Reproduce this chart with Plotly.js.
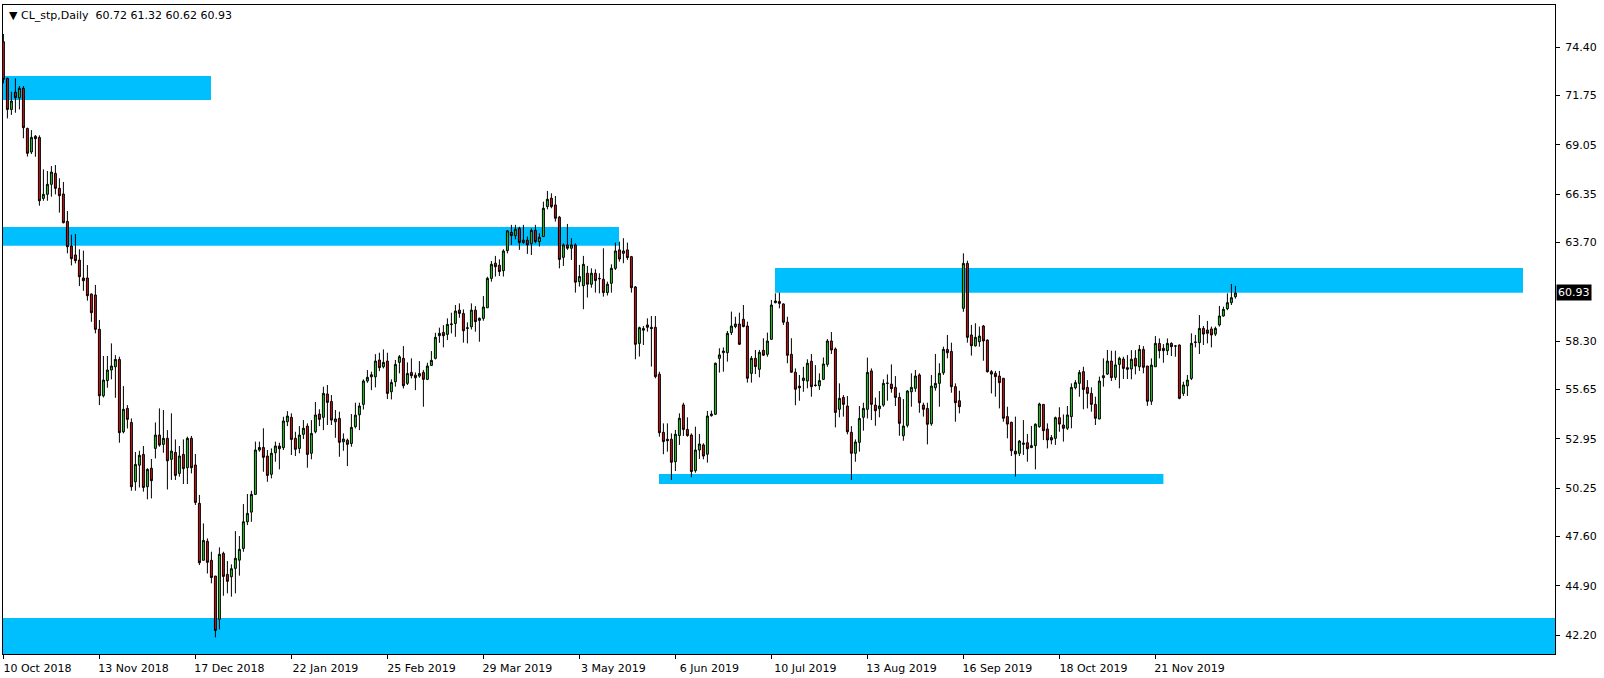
<!DOCTYPE html>
<html>
<head>
<meta charset="utf-8">
<script src="https://cdn.plot.ly/plotly-3.0.1.min.js"></script>
<style>html,body{margin:0;padding:0;background:#fff;}#chart{width:1604px;height:678px;}</style>
</head>
<body>
<div id="chart"></div>
<script>
// OHLC values (one entry per daily bar, 10 Oct 2018 .. Dec 2019)
const openPrices = [74.69,72.68,70.98,71.93,71.62,72.14,69.94,68.65,69.51,69.45,66.11,66.33,66.88,67.48,66.66,66.35,64.85,63.50,63.01,62.73,61.75,61.75,60.87,60.82,58.94,55.30,56.13,56.71,56.89,57.29,53.33,54.61,53.84,50.59,51.50,52.09,50.32,51.33,52.42,53.15,52.64,52.97,51.82,52.20,51.05,52.09,51.36,52.97,51.51,49.41,46.29,47.33,46.29,45.43,43.06,46.67,45.52,45.39,45.85,46.30,46.94,48.40,48.93,49.90,52.33,52.47,52.00,51.00,52.18,52.55,52.46,53.88,54.12,52.97,52.42,53.19,53.64,52.15,53.33,54.30,54.12,55.40,54.99,53.88,54.06,52.78,52.87,52.69,53.61,54.26,54.83,56.11,56.34,56.34,57.26,56.89,57.20,55.52,56.07,57.13,57.35,55.98,56.58,56.43,56.38,56.58,56.20,56.96,57.35,58.59,58.77,58.66,59.20,59.26,59.99,59.81,58.99,59.08,59.99,59.43,59.54,60.12,61.73,62.56,62.45,62.15,63.25,64.25,64.07,64.47,63.69,63.82,63.63,64.36,63.74,64.02,65.66,66.12,65.75,65.08,62.88,63.56,63.38,63.56,61.55,61.33,62.01,61.41,62.01,61.73,61.68,60.95,61.46,62.28,63.29,63.10,63.29,62.92,61.26,58.17,58.89,59.18,59.05,59.05,56.48,53.30,52.92,52.92,51.69,53.12,54.80,53.46,53.15,51.20,52.33,52.61,52.10,54.21,54.29,57.35,57.66,57.66,58.76,59.09,59.23,59.49,59.12,56.53,57.35,56.75,57.79,57.57,58.39,60.40,60.46,60.33,59.33,57.57,56.59,55.83,56.14,56.11,57.19,55.86,55.85,56.20,57.02,58.30,57.86,54.56,55.21,54.74,53.30,52.15,52.75,54.12,54.56,56.66,54.79,54.59,54.79,55.98,55.94,55.76,55.21,53.11,53.68,55.52,55.71,56.44,54.79,54.61,53.77,55.74,55.98,56.56,57.84,57.73,55.80,55.03,60.09,62.55,58.63,58.04,58.26,59.12,58.35,56.62,56.53,56.38,56.26,54.16,53.85,52.27,52.15,52.64,52.73,52.46,52.57,53.61,54.83,53.48,53.01,52.97,54.10,53.70,53.52,54.16,55.74,55.98,56.62,55.76,55.43,54.83,54.03,56.29,56.49,57.20,56.31,57.02,57.31,56.84,56.77,57.35,56.89,57.84,56.93,55.00,56.89,58.17,57.90,57.77,58.17,58.02,58.08,55.43,55.84,56.25,58.22,58.21,58.99,58.90,58.96,58.68,59.18,59.67,60.07,60.40,60.72];
const highPrices = [75.11,72.72,71.95,72.68,72.26,72.26,69.98,69.85,69.58,69.56,67.70,67.61,67.88,67.94,67.21,67.01,65.42,64.12,64.16,63.32,63.25,62.46,60.90,61.37,59.45,57.48,57.48,58.17,57.53,57.44,55.83,54.79,54.06,52.22,52.29,52.55,51.33,51.84,53.84,54.61,54.52,53.42,54.34,52.91,52.55,52.91,53.06,53.10,52.11,49.87,48.31,47.49,46.76,45.43,47.00,46.76,46.25,46.07,47.89,47.62,49.37,49.92,50.10,52.79,52.79,53.52,52.33,52.42,52.79,52.73,54.15,54.46,54.34,53.33,53.64,53.97,53.79,53.97,54.96,54.56,55.80,55.89,55.34,54.52,54.43,53.24,52.96,54.30,54.92,54.92,56.20,56.71,56.62,57.58,57.66,57.84,57.66,56.20,57.26,57.53,58.02,57.13,57.35,56.58,57.20,56.71,57.11,57.75,58.75,59.03,59.17,59.54,59.85,60.27,60.36,60.03,59.32,60.36,60.21,59.59,60.76,61.82,62.68,62.96,62.77,63.32,64.38,64.66,64.66,64.56,64.66,64.02,64.47,64.66,64.20,65.93,66.52,66.39,66.24,65.15,63.65,64.71,63.93,63.65,62.47,62.96,62.41,62.28,62.23,62.01,63.38,61.55,62.50,63.69,63.74,63.93,63.69,62.96,61.31,59.09,59.12,59.54,59.67,59.67,56.62,53.79,53.79,53.24,53.43,54.34,54.92,54.12,53.24,53.61,53.21,52.70,54.47,54.49,57.12,57.90,57.95,58.85,59.91,59.63,59.85,60.27,59.36,57.48,57.81,57.81,58.45,58.76,60.55,60.91,60.95,60.36,59.63,58.45,56.80,56.44,56.89,57.30,57.59,56.98,56.53,57.40,58.41,58.79,57.95,55.98,55.34,55.29,53.64,52.91,54.74,54.92,57.39,56.80,55.20,55.56,56.20,56.47,57.02,56.38,55.47,55.12,55.61,56.53,56.71,56.53,54.92,54.92,56.44,57.59,57.08,57.99,58.63,58.21,55.98,55.58,63.10,62.70,59.18,59.27,59.09,59.18,58.39,56.71,56.66,56.66,56.26,54.70,53.88,54.16,52.88,53.97,53.21,53.65,53.79,54.92,54.83,53.79,53.15,54.16,54.67,54.28,54.74,55.98,56.16,56.71,56.89,56.16,55.76,55.25,56.35,57.35,57.81,57.77,57.77,57.44,57.44,57.53,57.80,57.80,58.08,58.02,56.93,57.35,58.57,58.44,58.13,58.44,58.23,58.06,58.11,56.07,56.44,58.72,58.63,59.72,59.12,59.40,59.09,59.09,60.22,60.18,60.91,61.42,61.32];
const lowPrices = [72.41,70.49,70.68,70.80,70.98,69.40,68.40,68.54,68.39,65.71,65.98,65.98,66.20,66.33,65.33,64.74,63.10,62.44,62.55,61.31,61.05,60.51,59.35,58.72,54.79,55.21,55.74,56.20,55.19,52.73,53.24,53.51,50.10,50.10,50.28,50.05,49.63,49.68,51.87,52.51,52.18,50.17,50.69,50.69,50.87,50.47,50.47,51.05,49.32,46.03,46.29,45.57,45.03,42.07,42.51,44.35,44.48,44.30,44.48,45.45,46.76,48.22,48.40,49.90,52.24,51.14,50.59,50.78,51.69,51.27,52.33,53.64,52.06,52.00,52.15,52.93,51.36,51.82,53.24,53.64,53.42,53.70,53.70,53.00,51.96,52.29,51.45,52.51,53.51,53.42,54.55,56.01,55.61,55.76,56.65,56.80,55.12,55.10,55.80,56.53,55.70,55.89,56.25,55.61,56.29,54.70,56.16,56.93,57.29,58.20,57.95,58.35,58.72,58.53,59.57,58.21,58.17,58.93,58.81,58.26,59.41,60.12,61.55,61.83,61.86,61.83,63.10,63.56,63.87,63.29,63.62,63.07,63.01,63.65,63.47,64.02,65.51,65.57,64.84,62.28,62.41,63.29,62.74,60.95,61.28,60.04,60.68,61.22,60.95,60.91,60.73,60.79,60.95,62.19,62.65,62.56,62.74,60.95,57.30,57.45,58.08,58.81,56.90,56.26,53.06,52.10,52.24,50.69,51.18,52.61,53.10,53.06,50.84,51.09,51.84,51.82,51.64,54.16,54.25,56.57,56.62,57.17,58.63,59.00,58.08,59.05,56.02,56.02,56.49,56.31,57.48,57.44,58.39,60.36,60.09,59.18,57.08,56.57,54.78,55.03,55.52,55.71,55.25,55.80,55.62,56.16,56.89,57.59,53.57,54.12,54.16,53.19,50.69,51.69,52.24,53.39,54.06,53.97,53.66,54.12,54.70,55.03,55.47,54.74,53.11,52.84,53.57,54.70,55.52,54.37,54.16,52.64,53.66,55.58,54.70,56.44,57.35,55.47,53.88,54.34,59.90,58.21,57.50,57.99,57.99,57.22,56.57,55.43,55.25,54.61,53.88,52.97,52.00,50.87,52.00,52.06,51.69,52.46,51.27,53.55,52.88,52.42,52.64,52.61,53.33,52.79,53.43,53.52,55.65,55.25,54.56,54.61,54.43,53.70,54.01,55.80,56.44,56.11,56.16,55.71,56.22,56.22,56.20,56.47,56.66,56.53,54.75,54.80,56.89,57.35,57.11,57.53,57.48,57.44,55.11,55.29,55.29,56.16,57.95,57.59,58.08,58.17,57.95,58.57,59.09,59.63,59.99,60.27,60.62];
const closePrices = [72.63,70.98,71.44,71.62,72.14,69.98,68.58,69.45,69.38,65.98,66.33,66.88,67.55,66.66,66.26,64.78,63.46,62.81,62.70,61.82,61.60,60.78,59.85,58.94,55.30,56.16,56.71,56.93,57.29,53.28,54.56,54.01,50.32,51.54,52.04,50.28,51.27,50.65,53.15,52.60,52.97,51.74,52.27,50.94,52.00,51.31,52.97,51.36,49.46,46.16,47.38,46.18,45.35,42.45,46.62,45.41,45.14,45.83,46.40,46.89,48.40,48.86,49.90,52.33,52.47,51.93,50.94,52.15,52.55,52.40,53.92,54.19,52.91,52.37,53.15,53.52,52.09,53.24,54.25,54.01,55.43,54.94,53.97,54.03,52.75,52.93,52.64,53.57,54.24,54.74,56.11,56.31,56.45,57.20,56.84,57.13,55.43,56.03,57.02,57.44,55.85,56.52,56.40,56.29,56.52,56.20,56.93,57.24,58.50,58.72,58.59,59.21,59.23,59.94,59.81,58.86,59.02,59.99,59.36,59.54,60.16,61.73,62.50,62.37,62.10,63.23,64.33,64.07,64.42,63.69,63.82,63.56,64.36,63.74,63.98,65.57,66.06,65.66,65.02,62.77,63.56,63.38,63.56,61.52,61.83,62.50,61.41,62.01,61.61,61.71,60.95,61.41,62.28,63.23,62.79,63.23,62.87,61.22,58.12,59.03,58.98,59.05,58.98,56.35,53.28,52.79,52.84,51.66,53.19,54.07,53.46,53.12,51.15,52.33,52.66,52.00,54.19,54.30,57.08,57.54,57.75,58.72,59.12,59.23,58.12,59.09,56.26,57.35,56.90,57.68,57.52,58.30,60.27,60.49,60.36,59.33,57.52,56.59,55.66,55.74,56.27,57.08,55.80,55.88,56.13,57.04,58.30,57.81,54.39,55.16,54.83,53.33,52.15,52.77,54.06,54.61,56.58,54.83,54.48,54.74,55.98,55.99,55.69,55.21,53.79,53.64,55.56,55.76,56.38,54.92,54.56,53.74,55.83,55.98,56.53,57.84,57.66,55.80,54.92,54.70,62.55,58.50,58.04,58.50,58.57,58.30,56.62,56.49,56.35,56.02,54.07,53.75,52.29,52.11,52.82,52.71,52.40,52.57,53.74,54.85,53.39,52.88,52.88,54.10,53.75,53.52,54.25,55.76,56.02,56.57,55.65,55.43,54.83,54.07,56.11,56.40,57.20,56.29,56.99,57.35,56.80,56.75,57.30,56.93,57.84,56.86,55.00,56.98,58.17,57.77,57.77,58.17,57.99,58.03,55.16,55.89,56.16,58.17,58.24,58.99,58.68,58.72,58.63,58.99,59.67,60.03,60.40,60.67,60.93];

// date labels shown under the chart (one every 24 bars)
const dateLabels = ["10 Oct 2018","13 Nov 2018","17 Dec 2018","22 Jan 2019","25 Feb 2019","29 Mar 2019","3 May 2019","6 Jun 2019","10 Jul 2019","13 Aug 2019","16 Sep 2019","18 Oct 2019","21 Nov 2019"];
const barsPerLabel = 24;

// price scale labels
const priceTicks = [74.40,71.75,69.05,66.35,63.70,58.30,55.65,52.95,50.25,47.60,44.90,42.20];
const lastPrice = 60.93;
const headerText = "CL_stp,Daily  60.72 61.32 60.62 60.93";

// support / resistance zones (bar index from-to, price low-high)
const zoneStart  = [-1, -1, 192.9, 163.9, -1];
const zoneEnd    = [51.9, 153.9, 379.9, 290.0, 400];
const zoneTop    = [72.81, 64.54, 62.30, 51.02, 43.13];
const zoneBottom = [71.50, 63.52, 60.94, 50.47, 40.00];

const barIndex = openPrices.map((_, i) => i);
const tickPos = dateLabels.map((_, i) => i * barsPerLabel);

const FONT = "DejaVu Sans, Verdana, sans-serif";

const trace = {
  type: 'candlestick',
  x: barIndex,
  open: openPrices, high: highPrices, low: lowPrices, close: closePrices,
  increasing: {line: {color: '#000000', width: 1}, fillcolor: '#1ED21E'},
  decreasing: {line: {color: '#000000', width: 1}, fillcolor: '#D40F0F'},
  whiskerwidth: 0,
  hoverinfo: 'skip'
};

const shapes = zoneStart.map((s, i) => ({
  type: 'rect', xref: 'x', yref: 'y', layer: 'below',
  x0: s, x1: zoneEnd[i], y0: zoneBottom[i], y1: zoneTop[i],
  fillcolor: '#00BFFF', line: {width: 0}
}));

const layout = {
  width: 1604, height: 678,
  margin: {l: 3, r: 49, t: 5, b: 24, pad: 0},
  paper_bgcolor: '#ffffff', plot_bgcolor: '#ffffff',
  showlegend: false,
  font: {family: FONT, size: 11, color: '#000000'},
  xaxis: {
    range: [-0.1, 387.9], fixedrange: true,
    rangeslider: {visible: false},
    tickmode: 'array', tickvals: tickPos, ticktext: dateLabels,
    ticks: 'outside', ticklen: 4, tickcolor: '#000', tickwidth: 1,
    ticklabelshift: 34, ticklabelstandoff: 0,
    showgrid: false, zeroline: false,
    showline: true, linecolor: '#000', linewidth: 1, mirror: true,
    tickfont: {family: FONT, size: 11, color: '#000'}
  },
  yaxis: {
    range: [41.16, 76.70], fixedrange: true, side: 'right',
    tickmode: 'array', tickvals: priceTicks, ticktext: priceTicks.map(v => v.toFixed(2)),
    ticks: 'outside', ticklen: 4, tickcolor: '#000', tickwidth: 1,
    ticklabelstandoff: 3,
    showgrid: false, zeroline: false,
    showline: true, linecolor: '#000', linewidth: 1, mirror: true,
    tickfont: {family: FONT, size: 11, color: '#000'}
  },
  shapes: shapes,
  annotations: [
    {xref: 'paper', yref: 'paper', x: 0, y: 1, xanchor: 'left', yanchor: 'top',
     xshift: 4, yshift: -2, showarrow: false, align: 'left',
     text: '▼ ' + headerText, font: {family: FONT, size: 11, color: '#000'}},
    {xref: 'paper', yref: 'y', x: 1, y: lastPrice, xanchor: 'left', yanchor: 'middle',
     xshift: 1, showarrow: false, text: lastPrice.toFixed(2), bgcolor: '#000000', borderpad: 1,
     font: {family: FONT, size: 11, color: '#ffffff'}}
  ]
};

Plotly.newPlot('chart', [trace], layout, {displayModeBar: false, staticPlot: true});
</script>
</body>
</html>
